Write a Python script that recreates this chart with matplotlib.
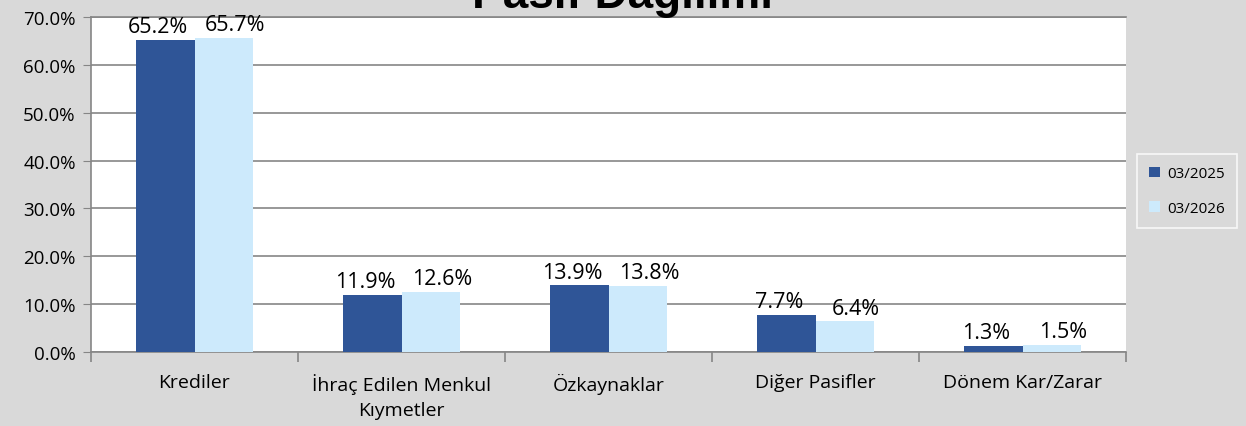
import matplotlib.pyplot as plt
import numpy as np

# veriler
kategoriler = ['Krediler', 'İhraç Edilen Menkul\nKıymetler', 'Özkaynaklar', 'Diğer Pasifler', 'Dönem Kar/Zarar']
seri_2025 = [65.2, 11.9, 13.9, 7.7, 1.3]
seri_2026 = [65.7, 12.6, 13.8, 6.4, 1.5]
donemler = ['03/2025', '03/2026']

plt.rcParams['font.family'] = ['Open Sans', 'DejaVu Sans']

fig = plt.figure(figsize=(12.46, 4.27), dpi=100, facecolor='#d9d9d9')
ax = fig.add_axes([91 / 1246, 1 - 353 / 427, (1126 - 91) / 1246, (353 - 18) / 427])
ax.set_facecolor('white')

x = np.arange(len(kategoriler))
w = 0.285
b1 = ax.bar(x - w / 2, seri_2025, w, color='#2f5597', label=donemler[0], zorder=3)
b2 = ax.bar(x + w / 2, seri_2026, w, color='#cdeafc', label=donemler[1], zorder=3)

# etiketler - excel gibi biraz ayrık
for bars, dx in ((b1, -5), (b2, 8)):
    for r in bars:
        ax.annotate(f'{r.get_height():.1f}%', (r.get_x() + r.get_width() / 2, r.get_height()),
                    xytext=(dx, 2), textcoords='offset points',
                    ha='center', va='bottom', fontsize=15.5, zorder=4)

ax.set_ylim(0, 70)
ax.set_xlim(-0.5, len(kategoriler) - 0.5)
ax.set_yticks(range(0, 71, 10))
ax.set_yticklabels([f'{v:.1f}%' for v in range(0, 71, 10)], fontsize=13.5)
ax.yaxis.grid(True, color='#868686', linewidth=1.2, zorder=0)
ax.tick_params(axis='y', length=6, color='#868686', pad=5)

ax.set_xticks(x)
ax.set_xticklabels(kategoriler, fontsize=14, linespacing=1.55)
ax.tick_params(axis='x', length=0, pad=15)
ax.set_xticks(np.arange(-0.5, len(kategoriler)), minor=True)
ax.tick_params(axis='x', which='minor', length=7, color='#868686', width=1.2)

ax.spines['right'].set_visible(False)
for s in ['top', 'left', 'bottom']:
    ax.spines[s].set_color('#868686')
    ax.spines[s].set_linewidth(1.2)

fig.text(0.5, 1 - 8 / 427, 'Pasif Dağılımı', ha='center', va='baseline',
         fontsize=33, fontweight='bold', family=['Liberation Sans', 'DejaVu Sans'])

leg = fig.legend(loc='upper left', bbox_to_anchor=(1137 / 1246, 1 - 155 / 427),
                 frameon=True, fontsize=11, handlelength=0.7, handleheight=0.7,
                 labelspacing=1.3, borderpad=0.8, handletextpad=0.45, borderaxespad=0)
leg.get_frame().set_facecolor('#d9d9d9')
leg.get_frame().set_edgecolor('white')
leg.get_frame().set_linewidth(1.2)
leg.get_frame().set_boxstyle('square', pad=0)

fig.savefig('out.png', dpi=100, facecolor=fig.get_facecolor())
